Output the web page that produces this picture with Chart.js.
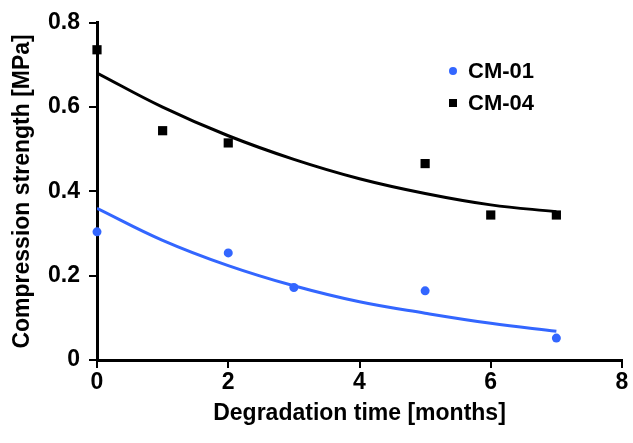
<!DOCTYPE html>
<html>
<head>
<meta charset="utf-8">
<script src="https://cdn.jsdelivr.net/npm/chart.js@4"></script>
<style>
  body { margin: 0; background: #fff; }
  #wrap { width: 633px; height: 443px; }
</style>
</head>
<body>
<div id="wrap"><canvas id="chart" width="633" height="443"></canvas></div>
<script>
'use strict'

// measured values (months, MPa)
const months01 = [0, 2, 3, 5, 7];
const cm01 = [0.304, 0.254, 0.172, 0.164, 0.052];
const months04 = [0, 1, 2, 5, 6, 7];
const cm04 = [0.736, 0.544, 0.515, 0.466, 0.344, 0.344];

// trend lines
const trendMonths = [0, 1, 2, 3, 4, 5, 6, 7];
const trend01 = [0.360, 0.284, 0.224, 0.176, 0.138, 0.111, 0.087, 0.068];
const trend04 = [0.681, 0.600, 0.532, 0.476, 0.430, 0.395, 0.368, 0.352];

const xTicks = [0, 2, 4, 6, 8];
const yTicks = [0, 0.2, 0.4, 0.6, 0.8];

const BLUE = '#3366ff';
const FONT = "'Liberation Sans', Arial, sans-serif";

const toPoints = (xs, ys) => xs.map((x, i) => ({ x: x, y: ys[i] }));

// legend drawn inside the plot, like the original
const innerLegend = {
  id: 'innerLegend',
  afterDatasetsDraw(chart) {
    const ctx = chart.ctx;
    const items = [
      { text: 'CM-01', color: BLUE, shape: 'circle', y: 72 },
      { text: 'CM-04', color: '#000', shape: 'rect', y: 104 }
    ];
    ctx.save();
    ctx.font = 'bold 22px ' + FONT;
    ctx.textBaseline = 'middle';
    items.forEach(it => {
      ctx.fillStyle = it.color;
      if (it.shape === 'circle') {
        ctx.beginPath();
        ctx.arc(453, it.y - 1, 4, 0, Math.PI * 2);
        ctx.fill();
      } else {
        ctx.fillRect(449, it.y - 5, 8, 8);
      }
      ctx.fillStyle = '#000';
      ctx.fillText(it.text, 468, it.y);
    });
    ctx.restore();
  }
};

const ctx = document.getElementById('chart');
new Chart(ctx, {
  type: 'scatter',
  data: {
    datasets: [
      {
        label: 'CM-01 trend',
        type: 'line',
        data: toPoints(trendMonths, trend01),
        borderColor: BLUE,
        borderWidth: 3,
        pointRadius: 0,
        tension: 0.4,
        fill: false
      },
      {
        label: 'CM-04 trend',
        type: 'line',
        data: toPoints(trendMonths, trend04),
        borderColor: '#000',
        borderWidth: 3,
        pointRadius: 0,
        tension: 0.4,
        fill: false
      },
      {
        label: 'CM-01',
        data: toPoints(months01, cm01),
        backgroundColor: BLUE,
        borderColor: BLUE,
        pointStyle: 'circle',
        pointRadius: 4.5,
        borderWidth: 0,
        clip: false
      },
      {
        label: 'CM-04',
        data: toPoints(months04, cm04),
        backgroundColor: '#000',
        borderColor: '#000',
        pointStyle: 'rect',
        pointRadius: 6.5,
        borderWidth: 0,
        clip: false
      }
    ]
  },
  options: {
    responsive: false,
    animation: false,
    layout: { padding: { top: 20, right: 11, left: 0, bottom: 0 } },
    scales: {
      x: {
        type: 'linear',
        min: 0,
        max: 8,
        afterBuildTicks: s => { s.ticks = xTicks.map(v => ({ value: v })); },
        afterFit: s => { s.height = 83; },
        grid: { drawOnChartArea: false, drawTicks: true, tickLength: 8, color: '#000', lineWidth: 2 },
        border: { display: true, color: '#000', width: 3 },
        ticks: { color: '#000', padding: 1, font: { family: FONT, size: 23, weight: 'bold' } },
        title: {
          display: true,
          text: 'Degradation time [months]',
          color: '#000',
          font: { family: FONT, size: 23, weight: 'bold' },
          padding: { top: 0, bottom: 16 }
        }
      },
      y: {
        min: 0,
        max: 0.8,
        afterBuildTicks: s => { s.ticks = yTicks.map(v => ({ value: v })); },
        afterFit: s => { s.width = 97; },
        grid: { drawOnChartArea: false, drawTicks: true, tickLength: 8, color: '#000', lineWidth: 2 },
        border: { display: true, color: '#000', width: 3 },
        ticks: { color: '#000', padding: 9, font: { family: FONT, size: 23, weight: 'bold' } },
        title: {
          display: true,
          text: 'Compression strength [MPa]',
          color: '#000',
          font: { family: FONT, size: 23, weight: 'bold' },
          padding: { top: 9, bottom: 0 }
        }
      }
    },
    plugins: {
      legend: { display: false },
      tooltip: { enabled: false }
    }
  },
  plugins: [innerLegend]
});
</script>
</body>
</html>
